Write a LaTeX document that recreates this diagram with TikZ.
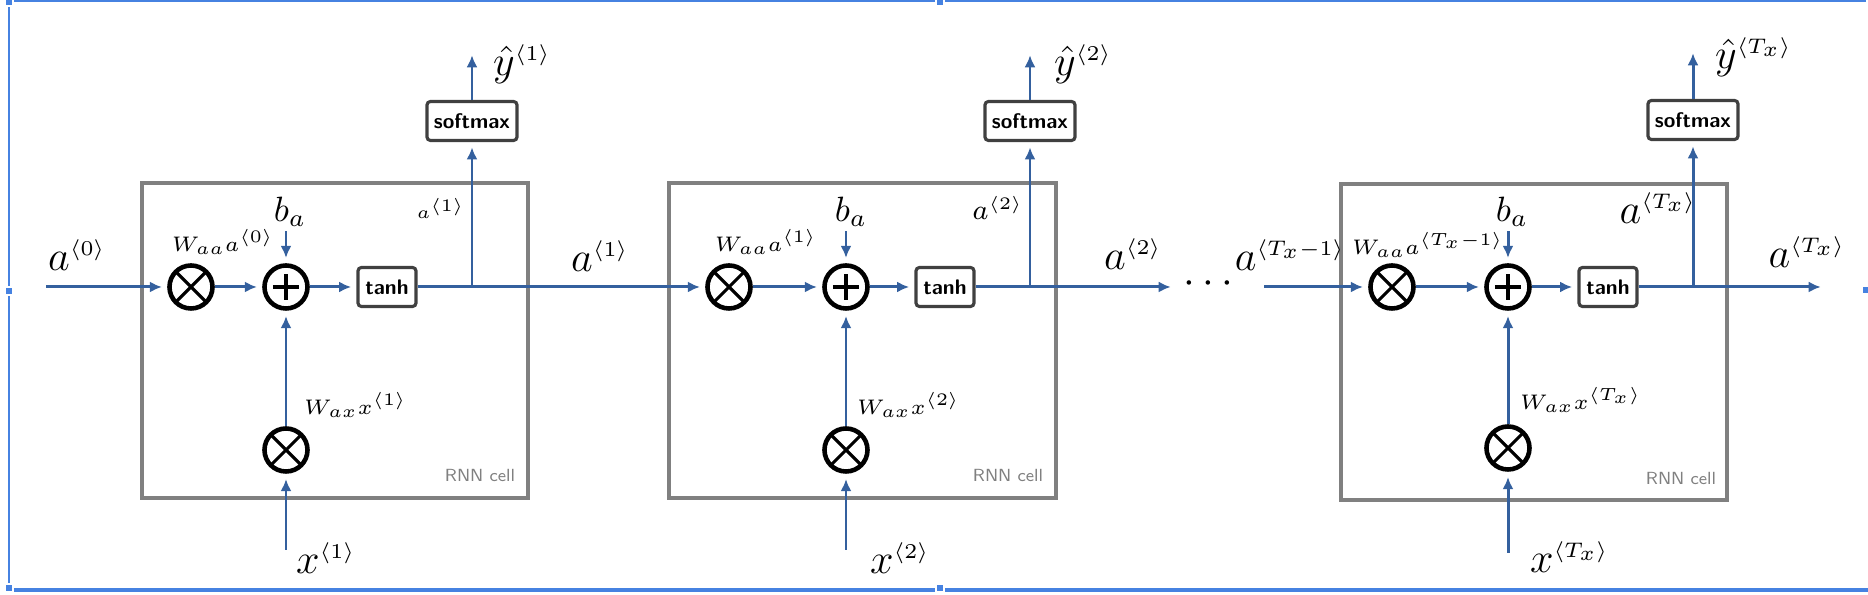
\documentclass[tikz,border=0pt]{standalone}
\usepackage{amsmath}
\usepackage{amssymb}
\usetikzlibrary{arrows.meta,positioning}
\definecolor{flow}{RGB}{52,96,158}
\definecolor{cellgray}{RGB}{128,128,128}
\definecolor{selblue}{RGB}{70,130,225}
\newcommand{\tsup}[1]{^{\scriptscriptstyle\langle #1\rangle}}

\begin{document}
\begin{tikzpicture}[
    x=0.01cm,y=-0.01cm,
    cell/.style={draw=cellgray, line width=1.4pt},
    op/.style={draw, circle, line width=1.3pt, minimum size=0.43cm, inner sep=0pt},
    mult/.style={op, path picture={\draw[line width=0.9pt]
      (path picture bounding box.north west) -- (path picture bounding box.south east)
      (path picture bounding box.north east) -- (path picture bounding box.south west);}},
    add/.style={op, path picture={\draw[line width=0.9pt]
      ([xshift=-0.13cm]path picture bounding box.center) -- ([xshift=0.13cm]path picture bounding box.center)
      ([yshift=-0.13cm]path picture bounding box.center) -- ([yshift=0.13cm]path picture bounding box.center);}},
    func/.style={draw=black!75, line width=0.9pt, rounded corners=1pt, inner sep=1pt,
      font=\fontsize{6}{7}\selectfont\sffamily\bfseries, minimum height=0.39cm},
    lbl/.style={inner sep=1pt, font=\large},
    small/.style={inner sep=1pt, font=\fontsize{6}{7}\selectfont},
    tag/.style={inner sep=1pt, font=\tiny\sffamily, text=cellgray},
    edge/.style={-{Latex[length=1.2mm,width=1.1mm]}, draw=flow, line width=0.85pt, shorten >=1.5pt},
    wire/.style={draw=flow, line width=0.85pt}
  ]
    \useasboundingbox (0,0) rectangle (1868,595);
    \draw[selblue, line width=0.6pt] (1866,1) -- (9,1) -- (9,590);
    \draw[selblue, line width=1.1pt] (9,590) -- (1868,590);
    \foreach \hx/\hy in {9/2, 9/291, 9/588, 940/2, 940/588, 1866/290}
      \filldraw[fill=selblue, draw=white, line width=0.3pt] (\hx-4,\hy-4) rectangle (\hx+4,\hy+4);

    \draw[cell] (142,183) rectangle (528,498);
    \draw[cell] (669,183) rectangle (1056,498);
    \draw[cell] (1341,184) rectangle (1727,500);

    \node[mult] (m1a) at (191,287) {};
    \node[add] (p1) at (286,287) {};
    \node[func, minimum width=0.58cm] (t1) at (387,287) {tanh};
    \node[func, minimum width=0.9cm] (s1) at (472,121) {softmax};
    \node[mult] (m1b) at (286,450) {};
    \coordinate (j1) at (472,287);
    \coordinate (in1) at (46,287);
    \coordinate (yt1) at (472,50);
    \coordinate (xin1) at (286,550);
    \node[lbl] (a0) at (77,255) {$a\tsup{0}$};
    \node[lbl, anchor=west] (yh1) at (489,64) {$\hat{y}\tsup{1}$};
    \node[inner sep=1pt] (ba1) at (290,212) {$b_a$};
    \node[small] (waa1) at (223,242) {$W_{aa}a\tsup{0}$};
    \node[inner sep=1pt, font=\tiny] (ai1) at (441,208) {$a\tsup{1}$};
    \node[small, anchor=west] (wax1) at (300,405) {$W_{ax}x\tsup{1}$};
    \node[tag] (rnn1) at (480,476) {RNN cell};
    \node[lbl, anchor=west] (x1) at (292,558) {$x\tsup{1}$};
    \node[lbl] (a1) at (600,256) {$a\tsup{1}$};

    \node[mult] (m2a) at (729,287) {};
    \node[add] (p2) at (846,287) {};
    \node[func, minimum width=0.58cm] (t2) at (945,287) {tanh};
    \node[func, minimum width=0.9cm] (s2) at (1030,121) {softmax};
    \node[mult] (m2b) at (846,450) {};
    \coordinate (j2) at (1030,287);
    \coordinate (yt2) at (1030,50);
    \coordinate (xin2) at (846,550);
    \coordinate (out2) at (1176,287);
    \node[lbl, anchor=west] (yh2) at (1050,64) {$\hat{y}\tsup{2}$};
    \node[inner sep=1pt] (ba2) at (851,212) {$b_a$};
    \node[small] (waa2) at (766,242) {$W_{aa}a\tsup{1}$};
    \node[inner sep=1pt, font=\footnotesize] (ai2) at (998,208) {$a\tsup{2}$};
    \node[small, anchor=west] (wax2) at (853,405) {$W_{ax}x\tsup{2}$};
    \node[tag] (rnn2) at (1008,476) {RNN cell};
    \node[lbl, anchor=west] (x2) at (866,558) {$x\tsup{2}$};
    \node[lbl] (a2) at (1133,254) {$a\tsup{2}$};
    \node[lbl] (dots) at (1212,284) {$\cdots$};

    \coordinate (in3) at (1264,287);
    \node[lbl] (atm) at (1290,255) {$a\tsup{T_x{-}1}$};
    \node[mult] (m3a) at (1392,287) {};
    \node[add] (p3) at (1508,287) {};
    \node[func, minimum width=0.58cm] (t3) at (1608,287) {tanh};
    \node[func, minimum width=0.9cm] (s3) at (1693,120) {softmax};
    \node[mult] (m3b) at (1508,448) {};
    \coordinate (j3) at (1693,287);
    \coordinate (yt3) at (1693,48);
    \coordinate (xin3) at (1508,553);
    \coordinate (out3) at (1826,287);
    \node[lbl, anchor=west] (yh3) at (1711,57) {$\hat{y}\tsup{T_x}$};
    \node[inner sep=1pt] (ba3) at (1512,212) {$b_a$};
    \node[small] (waa3) at (1428,245) {$W_{aa}a\tsup{T_x{-}1}$};
    \node[lbl] (ai3) at (1658,208) {$a\tsup{T_x}$};
    \node[small, anchor=west] (wax3) at (1516,400) {$W_{ax}x\tsup{T_x}$};
    \node[tag] (rnn3) at (1681,478) {RNN cell};
    \node[lbl, anchor=west] (x3) at (1526,557) {$x\tsup{T_x}$};
    \node[lbl] (a3) at (1807,252) {$a\tsup{T_x}$};

    \draw[edge] (in1) -- (m1a);
    \draw[edge] (m1a) -- (p1);
    \draw[edge] (p1) -- (t1);
    \draw[wire] (t1) -- (j1);
    \draw[edge] (j1) -- (s1);
    \draw[edge] (s1) -- (yt1);
    \draw[edge] (ba1.south -| p1) -- (p1);
    \draw[edge] (m1b) -- (p1);
    \draw[edge] (xin1) -- (m1b);
    \draw[edge] (j1) -- (m2a);

    \draw[edge] (m2a) -- (p2);
    \draw[edge] (p2) -- (t2);
    \draw[wire] (t2) -- (j2);
    \draw[edge] (j2) -- (s2);
    \draw[edge] (s2) -- (yt2);
    \draw[edge] (ba2.south -| p2) -- (p2);
    \draw[edge] (m2b) -- (p2);
    \draw[edge] (xin2) -- (m2b);
    \draw[edge] (j2) -- (out2);

    \draw[edge] (in3) -- (m3a);
    \draw[edge] (m3a) -- (p3);
    \draw[edge] (p3) -- (t3);
    \draw[wire] (t3) -- (j3);
    \draw[edge] (j3) -- (s3);
    \draw[edge] (s3) -- (yt3);
    \draw[edge] (ba3.south -| p3) -- (p3);
    \draw[edge] (m3b) -- (p3);
    \draw[edge] (xin3) -- (m3b);
    \draw[edge] (j3) -- (out3);
  \end{tikzpicture}
\end{document}
